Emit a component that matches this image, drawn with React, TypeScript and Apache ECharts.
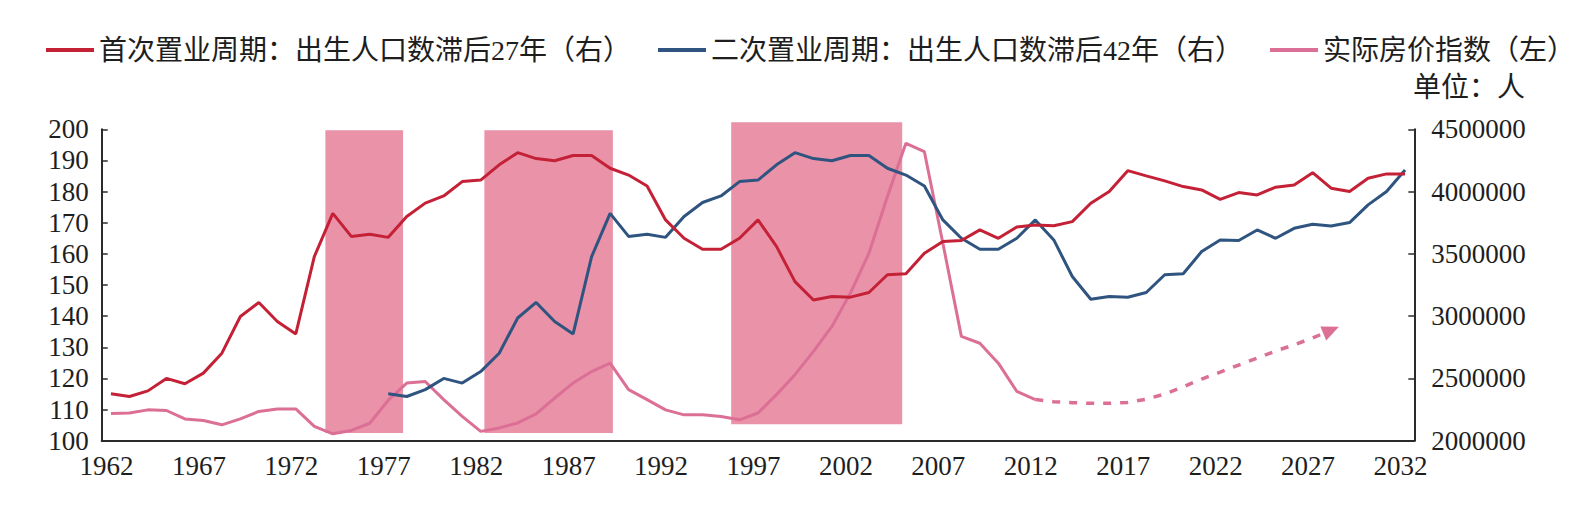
import React, { useEffect, useRef } from "react";
import * as echarts from "echarts";

const years = [
  "1962", "1963", "1964", "1965", "1966", "1967", "1968", "1969", "1970", "1971",
  "1972", "1973", "1974", "1975", "1976", "1977", "1978", "1979", "1980", "1981",
  "1982", "1983", "1984", "1985", "1986", "1987", "1988", "1989", "1990", "1991",
  "1992", "1993", "1994", "1995", "1996", "1997", "1998", "1999", "2000", "2001",
  "2002", "2003", "2004", "2005", "2006", "2007", "2008", "2009", "2010", "2011",
  "2012", "2013", "2014", "2015", "2016", "2017", "2018", "2019", "2020", "2021",
  "2022", "2023", "2024", "2025", "2026", "2027", "2028", "2029", "2030", "2031",
  "2032",
];

// 首次置业周期：出生人口数滞后27年（右）, 1962–2032
const firstBuyers = [
  2377500, 2355000, 2400000, 2500000, 2457500, 2542500, 2702500, 2997500, 3110000, 2957500,
  2857500, 3477500, 3825000, 3640000, 3657500, 3632500, 3800000, 3907500, 3965000, 4080000,
  4092500, 4215000, 4312500, 4265000, 4247500, 4290000, 4290000, 4187500, 4132500, 4045000,
  3772500, 3625000, 3537500, 3537500, 3625000, 3772500, 3560000, 3277500, 3130000, 3157500,
  3152500, 3190000, 3332500, 3340000, 3505000, 3600000, 3607500, 3692500, 3625000, 3715000,
  3732500, 3725000, 3759000, 3906000, 4000000, 4168000, 4126000, 4086000, 4040000, 4013000,
  3938000, 3992000, 3973000, 4035000, 4053000, 4152000, 4027000, 4000000, 4107000, 4142000,
  4142000,
];

// 二次置业周期：出生人口数滞后42年（右）, 1977–2032
const secondStart = "1977";
const secondBuyers = [
  2377500, 2355000, 2410000, 2500000, 2462500, 2555000, 2702500, 2985000, 3110000, 2957500,
  2857500, 3477500, 3825000, 3640000, 3657500, 3632500, 3800000, 3912500, 3965000, 4080000,
  4092500, 4215000, 4312500, 4265000, 4247500, 4290000, 4290000, 4187500, 4132500, 4045000,
  3772500, 3625000, 3537500, 3537500, 3625000, 3772500, 3612000, 3318000, 3136000, 3158000,
  3152000, 3190000, 3332000, 3340000, 3519000, 3612000, 3607000, 3692000, 3625000, 3705000,
  3738000, 3724000, 3751000, 3893000, 4000000, 4174000,
];

// 实际房价指数（左）, 1962–2012
const priceIndex = [
  108.7, 108.9, 109.9, 109.7, 107.0, 106.5, 105.1, 107.0, 109.4, 110.2,
  110.2, 104.6, 102.2, 103.3, 105.6, 113.0, 118.5, 119.0, 113.2, 107.8,
  103.0, 104.1, 105.7, 108.6, 113.7, 118.5, 122.2, 124.9, 116.4, 113.2,
  109.9, 108.3, 108.3, 107.8, 106.7, 108.9, 114.8, 121.2, 128.7, 136.7,
  147.4, 160.2, 178.4, 195.5, 192.8, 163.4, 133.5, 131.3, 124.9, 115.8,
  113.2,
];

// 预测趋势（虚线箭头）, 2012–2028
const projectionStart = "2012";
const priceProjection = [
  113.2, 112.5, 112.2, 112.0, 112.0, 112.3, 113.3, 115.0, 117.3, 119.8,
  122.0, 124.3, 126.5, 128.8, 130.8, 133.0, 135.5,
];

// 阴影区间
const shadeStart = [1973.6, 1982.2, 1995.55];
const shadeEnd = [1977.8, 1989.15, 2004.8];
const shadeBottom = [102.5, 102.5, 105.3];
const shadeTop = [199.7, 199.7, 202.3];

const leftTicks = { min: 100, max: 200, interval: 10 };
const rightTicks = { min: 2000000, max: 4500000, interval: 500000 };

const NAME_FIRST = "首次置业周期：出生人口数滞后27年（右）";
const NAME_SECOND = "二次置业周期：出生人口数滞后42年（右）";
const NAME_PRICE = "实际房价指数（左）";

const FONT = "'Liberation Serif', 'Noto Sans CJK SC', serif";
const TEXT = "#1e1e1e";
const AXIS = "#2b2b2b";
const RED = "#c42136";
const BLUE = "#2f5480";
const PINK = "#dc6f96";
const SHADE = "#e992a8";

function padTo(start: string, values: number[]) {
  const offset = years.indexOf(start);
  const out: (number | null | object)[] = years.map(() => null);
  values.forEach((v, i) => {
    out[offset + i] = v;
  });
  return out;
}

export default function App() {
  const ref = useRef<HTMLDivElement>(null);

  useEffect(() => {
    if (!ref.current) return;
    const chart = echarts.init(ref.current, null, { renderer: "svg" });

    const projData = padTo(projectionStart, priceProjection);
    const lastIdx = years.indexOf(projectionStart) + priceProjection.length - 1;
    projData[lastIdx] = {
      value: priceProjection[priceProjection.length - 1],
      symbol: "triangle",
      symbolSize: [15, 17],
      symbolRotate: -67,
      itemStyle: { color: PINK },
    };

    const shadeData = shadeStart.map((s, i) => [s, shadeEnd[i], shadeBottom[i], shadeTop[i]]);

    chart.setOption({
      animation: false,
      backgroundColor: "#ffffff",
      textStyle: { fontFamily: FONT },
      grid: { left: 101.7, right: 171.7, top: 129.3, bottom: 66.3, containLabel: false },
      legend: {
        data: [NAME_FIRST, NAME_SECOND, NAME_PRICE],
        left: 41,
        top: 29,
        icon: "rect",
        itemWidth: 48,
        itemHeight: 4,
        itemGap: 27,
        textStyle: { fontFamily: FONT, fontSize: 28, color: TEXT, lineHeight: 32 },
        selectedMode: false,
      },
      graphic: [
        {
          type: "text",
          x: 1413,
          y: 87,
          style: {
            text: "单位：人",
            font: `28px ${FONT}`,
            fill: TEXT,
            textVerticalAlign: "middle",
          },
        },
      ],
      xAxis: [
        {
          type: "category",
          data: years,
          boundaryGap: true,
          axisLine: { lineStyle: { color: AXIS, width: 2 } },
          axisTick: { inside: true, length: 6, interval: 4, lineStyle: { color: AXIS, width: 1.5 } },
          axisLabel: {
            interval: 4,
            margin: 12,
            fontSize: 27,
            fontFamily: FONT,
            color: TEXT,
            padding: [0, 9, 0, 0],
          },
          splitLine: { show: false },
        },
        {
          type: "value",
          min: 1961.5,
          max: 2032.5,
          show: false,
          splitLine: { show: false },
        },
      ],
      yAxis: [
        {
          type: "value",
          position: "left",
          min: leftTicks.min,
          max: leftTicks.max,
          interval: leftTicks.interval,
          axisLine: { show: true, lineStyle: { color: AXIS, width: 2 } },
          axisTick: { show: true, inside: true, length: 6, lineStyle: { color: AXIS, width: 1.5 } },
          axisLabel: { margin: 13, fontSize: 27, fontFamily: FONT, color: TEXT },
          splitLine: { show: false },
        },
        {
          type: "value",
          position: "right",
          min: rightTicks.min,
          max: rightTicks.max,
          interval: rightTicks.interval,
          axisLine: { show: true, lineStyle: { color: AXIS, width: 2 } },
          axisTick: { show: true, inside: true, length: 6, lineStyle: { color: AXIS, width: 1.5 } },
          axisLabel: {
            margin: 17,
            fontSize: 27,
            fontFamily: FONT,
            color: TEXT,
            formatter: (v: number) => String(Math.round(v)),
          },
          splitLine: { show: false },
        },
      ],
      series: [
        {
          name: "shade",
          type: "custom",
          xAxisIndex: 1,
          yAxisIndex: 0,
          silent: true,
          z: 1,
          encode: { x: [0, 1], y: [2, 3] },
          data: shadeData,
          renderItem: (params: any, api: any) => {
            const p0 = api.coord([api.value(0), api.value(3)]);
            const p1 = api.coord([api.value(1), api.value(2)]);
            return {
              type: "rect",
              shape: { x: p0[0], y: p0[1], width: p1[0] - p0[0], height: p1[1] - p0[1] },
              style: { fill: SHADE },
            };
          },
        },
        {
          name: NAME_PRICE,
          type: "line",
          yAxisIndex: 0,
          data: padTo("1962", priceIndex),
          showSymbol: false,
          symbol: "none",
          lineStyle: { color: PINK, width: 3 },
          itemStyle: { color: PINK },
          z: 3,
        },
        {
          name: "projection",
          type: "line",
          yAxisIndex: 0,
          data: projData,
          showSymbol: true,
          symbol: "none",
          lineStyle: { color: PINK, width: 3.5, type: [8, 9] },
          itemStyle: { color: PINK },
          z: 3,
        },
        {
          name: NAME_SECOND,
          type: "line",
          yAxisIndex: 1,
          data: padTo(secondStart, secondBuyers),
          showSymbol: false,
          symbol: "none",
          lineStyle: { color: BLUE, width: 3 },
          itemStyle: { color: BLUE },
          z: 4,
        },
        {
          name: NAME_FIRST,
          type: "line",
          yAxisIndex: 1,
          data: firstBuyers,
          showSymbol: false,
          symbol: "none",
          lineStyle: { color: RED, width: 3 },
          itemStyle: { color: RED },
          z: 5,
        },
      ],
    });

    return () => {
      chart.dispose();
    };
  }, []);

  return (
    <div
      ref={ref}
      style={{ position: "fixed", left: 0, top: 0, width: 1586, height: 507, background: "#fff" }}
    />
  );
}
